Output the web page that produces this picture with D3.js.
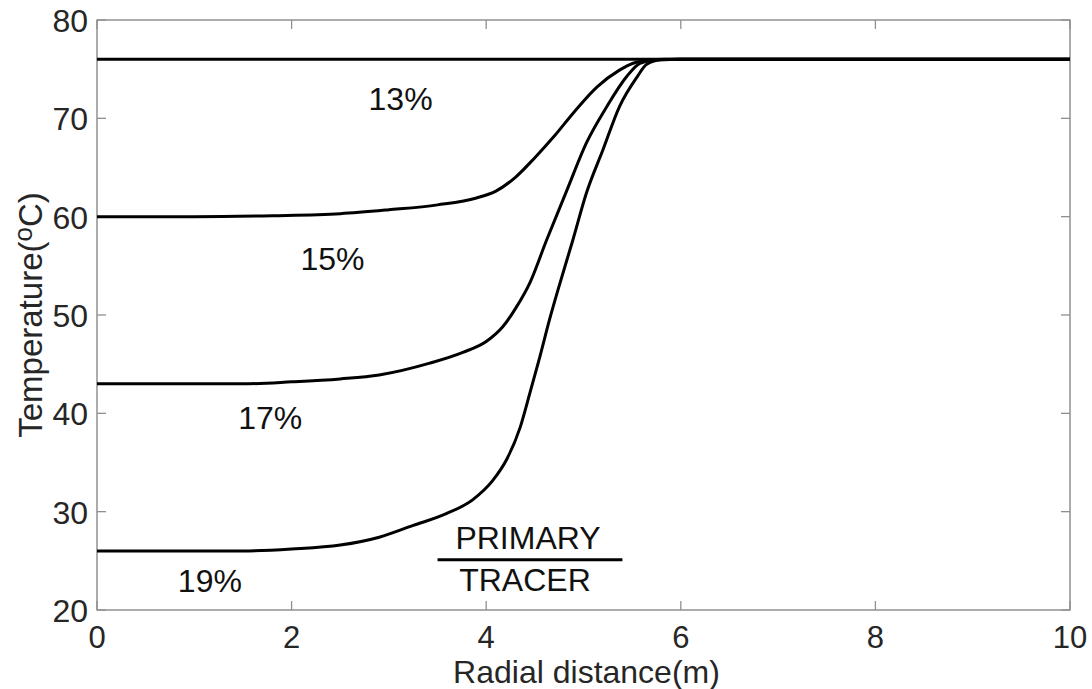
<!DOCTYPE html>
<html>
<head>
<meta charset="utf-8">
<script src="https://cdn.jsdelivr.net/npm/d3@7"></script>
<style>
  body { margin: 0; background: #fff; }
  svg { font-family: "Liberation Sans", Arial, sans-serif; }
  .curve { fill: none; stroke: #000; stroke-width: 3; }
  .lbl { font-size: 32px; fill: #111; }
  .tick-lbl { font-size: 32px; fill: #262626; }
  .title { font-size: 33px; fill: #262626; }
</style>
</head>
<body>
<div id="chart"></div>
<script>
// series
var x13 = [0, 10];
var t13 = [76, 76];

var x15 = [0, 1, 1.8, 2.5, 3.0, 3.5, 3.9, 4.1, 4.3, 4.5, 4.7, 4.9, 5.14, 5.37, 5.51, 5.65, 5.85, 6.0, 10];
var t15 = [60, 60, 60.1, 60.3, 60.7, 61.2, 61.9, 62.6, 64.0, 66.0, 68.2, 70.6, 73.2, 74.9, 75.6, 75.9, 76, 76, 76];

var x17 = [0, 1, 1.5, 2, 2.5, 2.9, 3.42, 3.76, 4.0, 4.17, 4.31, 4.45, 4.62, 4.83, 5.03, 5.24, 5.44, 5.58, 5.75, 6.0, 10];
var t17 = [43, 43, 43, 43.2, 43.5, 43.9, 45.1, 46.2, 47.3, 48.8, 50.8, 53.3, 57.6, 62.7, 67.5, 71.2, 74.2, 75.6, 75.95, 76, 76];

var x19 = [0, 1, 1.5, 2, 2.5, 2.9, 3.25, 3.59, 3.86, 4.07, 4.21, 4.35, 4.45, 4.55, 4.65, 4.76, 4.89, 5.03, 5.2, 5.37, 5.55, 5.65, 5.8, 6.0, 10];
var t19 = [26, 26, 26, 26.2, 26.6, 27.4, 28.6, 29.8, 31.2, 33.2, 35.3, 38.6, 42.1, 45.7, 49.5, 53.3, 57.6, 62.4, 66.8, 71.2, 74.2, 75.5, 75.95, 76, 76];

// curve labels: text, x, temperature (baseline)
var labels = [
  ["13%", 3.12, 70.8],
  ["15%", 2.42, 54.6],
  ["17%", 1.78, 38.4],
  ["19%", 1.16, 21.8]
];

var xTicks = [0, 2, 4, 6, 8, 10];
var yTicks = [20, 30, 40, 50, 60, 70, 80];

var width = 1092, height = 689;
var margin = {left: 97, top: 20, right: 22, bottom: 79};
var w = width - margin.left - margin.right;
var h = height - margin.top - margin.bottom;

var svg = d3.select("#chart").append("svg")
  .attr("width", width)
  .attr("height", height);

var x = d3.scaleLinear().domain([0, 10]).range([0, w]);
var y = d3.scaleLinear().domain([20, 80]).range([h, 0]);

var g = svg.append("g")
  .attr("transform", "translate(" + margin.left + "," + margin.top + ")");

// frame
g.append("rect")
  .attr("width", w).attr("height", h)
  .attr("fill", "none").attr("stroke", "#808080").attr("stroke-width", 1.3);

var tickLen = 9;
var ticks = g.append("g").attr("stroke", "#909090").attr("stroke-width", 1.3);
xTicks.forEach(function(t){
  ticks.append("line").attr("x1", x(t)).attr("x2", x(t)).attr("y1", h).attr("y2", h - tickLen);
  ticks.append("line").attr("x1", x(t)).attr("x2", x(t)).attr("y1", 0).attr("y2", tickLen);
});
yTicks.forEach(function(t){
  ticks.append("line").attr("x1", 0).attr("x2", tickLen).attr("y1", y(t)).attr("y2", y(t));
  ticks.append("line").attr("x1", w).attr("x2", w - tickLen).attr("y1", y(t)).attr("y2", y(t));
});

// tick labels
g.selectAll(".xl").data(xTicks).enter().append("text")
  .attr("class", "tick-lbl")
  .attr("x", function(d){ return x(d); })
  .attr("y", h + 38)
  .attr("text-anchor", "middle")
  .style("font-size", "31px")
  .text(function(d){ return d; });

g.selectAll(".yl").data(yTicks).enter().append("text")
  .attr("class", "tick-lbl")
  .attr("x", -9)
  .attr("y", function(d){ return y(d) + 12; })
  .attr("text-anchor", "end")
  .text(function(d){ return d; });

// axis titles
svg.append("text")
  .attr("class", "title")
  .attr("x", margin.left + w / 2 + 3)
  .attr("y", 683)
  .attr("text-anchor", "middle")
  .style("font-size", "32px")
  .text("Radial distance(m)");

var yt = svg.append("text")
  .attr("class", "title")
  .attr("transform", "translate(42," + (margin.top + h / 2) + ") rotate(-90)")
  .attr("text-anchor", "middle");
yt.append("tspan").text("Temperature(");
yt.append("tspan").attr("font-size", "26px").attr("dy", -10).text("o");
yt.append("tspan").attr("dy", 10).text("C)");

// curves
var line = d3.line()
  .x(function(d){ return x(d[0]); })
  .y(function(d){ return y(d[1]); })
  .curve(d3.curveMonotoneX);

[[x13, t13], [x15, t15], [x17, t17], [x19, t19]].forEach(function(s){
  g.append("path")
    .attr("class", "curve")
    .attr("d", line(d3.zip(s[0], s[1])));
});

// labels
g.selectAll(".cl").data(labels).enter().append("text")
  .attr("class", "lbl")
  .attr("x", function(d){ return x(d[1]); })
  .attr("y", function(d){ return y(d[2]); })
  .attr("text-anchor", "middle")
  .text(function(d){ return d[0]; });

// PRIMARY / TRACER note
var nx0 = 3.5, nx1 = 5.4, ny = 25.1;
g.append("line")
  .attr("x1", x(nx0)).attr("x2", x(nx1))
  .attr("y1", y(ny)).attr("y2", y(ny))
  .attr("stroke", "#000").attr("stroke-width", 3);
g.append("text").attr("class", "lbl")
  .attr("x", x((nx0 + nx1) / 2) - 2).attr("y", y(ny) - 11)
  .attr("text-anchor", "middle").text("PRIMARY");
g.append("text").attr("class", "lbl")
  .attr("x", x((nx0 + nx1) / 2) - 5).attr("y", y(ny) + 31)
  .attr("text-anchor", "middle").text("TRACER");
</script>
</body>
</html>
